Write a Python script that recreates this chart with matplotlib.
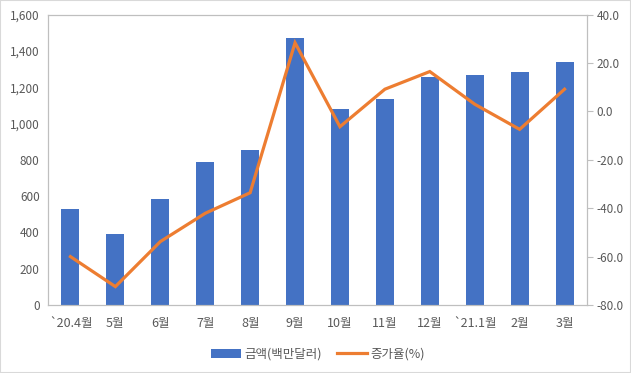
import matplotlib
matplotlib.use("Agg")
import matplotlib.pyplot as plt
from matplotlib.patches import Rectangle

plt.rcParams['font.family'] = ['Noto Sans CJK KR', 'DejaVu Sans']

months = ['`20.4월', '5월', '6월', '7월', '8월', '9월', '10월', '11월',
          '12월', '`21.1월', '2월', '3월']
amount = [530, 390, 582, 788, 852, 1470, 1080, 1135, 1257, 1266, 1283, 1338]
growth = [-60.0, -72.4, -53.8, -42.1, -33.6, 28.4, -6.3, 9.2, 16.5, 3.0, -7.4, 9.2]

text_color = '#595959'
grid_color = '#BFBFBF'

fig = plt.figure(figsize=(6.31, 3.73), dpi=100)
ax = fig.add_axes([48 / 631, 1 - 305 / 373, 539 / 631, 290.3 / 373])
ax2 = ax.twinx()

x = list(range(len(months)))
bars = ax.bar(x, amount, width=0.4, color='#4472C4', label='금액(백만달러)', zorder=2)
line, = ax2.plot(x, growth, color='#ED7D31', linewidth=2.3, label='증가율(%)',
                 solid_joinstyle='miter', zorder=3)

ax.set_xlim(-0.5, len(months) - 0.5)
ax.set_ylim(0, 1600)
ax.set_yticks(range(0, 1601, 200))
ax.set_yticklabels([f'{v:,}' for v in range(0, 1601, 200)])
ax2.set_ylim(-80, 40)
ax2.set_yticks(range(-80, 41, 20))
ax2.set_yticklabels([f'{v:.1f}' for v in range(-80, 41, 20)])

ax.set_xticks(x)
ax.set_xticklabels(months)

for a in (ax, ax2):
    for s in a.spines.values():
        s.set_color(grid_color)
        s.set_linewidth(0.8)
    a.tick_params(colors=text_color, labelsize=8.5)

ax.tick_params(axis='y', length=0, pad=6)
ax.tick_params(axis='x', length=0, pad=9, labelsize=9)
ax2.tick_params(axis='y', length=4, color=grid_color, pad=3)

ax2.set_zorder(ax.get_zorder() + 1)
ax2.patch.set_visible(False)

fig.legend(handles=[bars, line], loc='center', bbox_to_anchor=(318 / 631, 1 - 354 / 373),
           ncol=2, frameon=False, fontsize=9, labelcolor=text_color,
           handlelength=2.4, columnspacing=1.2, handletextpad=0.3)

fig.patches.append(Rectangle((0, 0), 1, 1, transform=fig.transFigure, fill=False,
                             edgecolor='#D9D9D9', linewidth=1.5))

fig.savefig('out.png', dpi=100)
